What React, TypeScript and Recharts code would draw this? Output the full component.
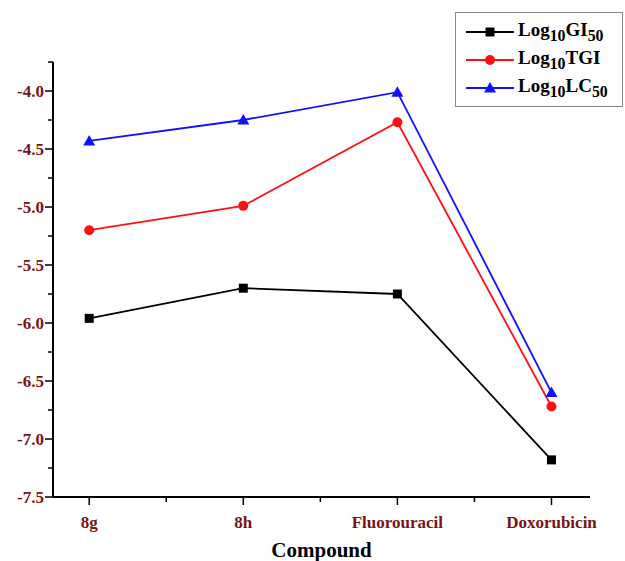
import { LineChart, Line, XAxis, YAxis } from 'recharts';

const compounds = ['8g', '8h', 'Fluorouracil', 'Doxorubicin'];
const gi50 = [-5.96, -5.7, -5.75, -7.18];
const tgi = [-5.2, -4.99, -4.27, -6.72];
const lc50 = [-4.43, -4.25, -4.01, -6.6];
const yTicks = [-7.5, -7.25, -7.0, -6.75, -6.5, -6.25, -6.0, -5.75, -5.5, -5.25, -5.0, -4.75, -4.5, -4.25, -4.0, -3.75];
const xTicks = [0, 0.5, 1, 1.5, 2, 2.5, 3];

const data = compounds.map((name, i) => ({
  idx: i,
  name,
  gi50: gi50[i],
  tgi: tgi[i],
  lc50: lc50[i],
}));

const FONT = '"Liberation Serif", "Times New Roman", serif';
const TICK_COLOR = '#7a1414';

function YTick({ x, y, payload }: any) {
  const v = payload.value as number;
  const major = Math.abs(v * 2 - Math.round(v * 2)) < 1e-6;
  if (v === -3.75) {
    return <line x1={x - 5} x2={x} y1={y} y2={y} stroke="#000" strokeWidth={1.5} />;
  }
  return (
    <g>
      <line x1={x - (major ? 8 : 5)} x2={x} y1={y} y2={y} stroke="#000" strokeWidth={1.5} />
      {major && (
        <text x={x - 9} y={y} dy={6} textAnchor="end" fill={TICK_COLOR} fontFamily={FONT} fontWeight="bold" fontSize={17}>
          {v.toFixed(1)}
        </text>
      )}
    </g>
  );
}

function XTick({ x, y, payload }: any) {
  const v = payload.value as number;
  const major = Number.isInteger(v);
  return (
    <g>
      <line x1={x} x2={x} y1={y} y2={y + (major ? 8 : 5)} stroke="#000" strokeWidth={1.5} />
      {major && (
        <text x={x} y={y + 31} textAnchor="middle" fill={TICK_COLOR} fontFamily={FONT} fontWeight="bold" fontSize={17}>
          {compounds[v]}
        </text>
      )}
    </g>
  );
}

const SquareDot = ({ cx, cy, fill }: any) => (
  <rect x={cx - 4.5} y={cy - 4.5} width={9} height={9} fill={fill} />
);
const CircleDot = ({ cx, cy, fill }: any) => <circle cx={cx} cy={cy} r={5} fill={fill} />;
const TriDot = ({ cx, cy, fill }: any) => (
  <polygon points={`${cx},${cy - 6} ${cx + 6},${cy + 4.5} ${cx - 6},${cy + 4.5}`} fill={fill} />
);

const legendItems = [
  { key: 'gi50', color: '#000000', Dot: SquareDot, label: <>Log<sub>10</sub>GI<sub>50</sub></> },
  { key: 'tgi', color: '#ff1010', Dot: CircleDot, label: <>Log<sub>10</sub>TGI</> },
  { key: 'lc50', color: '#1010ff', Dot: TriDot, label: <>Log<sub>10</sub>LC<sub>50</sub></> },
];

function ChartLegend() {
  return (
    <div
      style={{
        position: 'absolute',
        left: 455,
        top: 12,
        width: 152,
        height: 83,
        border: '1px solid #888',
        background: '#fff',
        padding: '5px 6px 5px 8px',
        fontFamily: FONT,
        fontWeight: 'bold',
        fontSize: 19,
        boxSizing: 'content-box',
      }}
    >
      {legendItems.map(({ key, color, Dot, label }) => (
        <div key={key} style={{ display: 'flex', alignItems: 'center', height: 28, whiteSpace: 'nowrap' }}>
          <svg width={50} height={16} style={{ marginRight: 4, flex: 'none' }}>
            <line x1={2} x2={50} y1={8} y2={8} stroke={color} strokeWidth={2} />
            <Dot cx={26} cy={8} fill={color} />
          </svg>
          <span>{label}</span>
        </div>
      ))}
    </div>
  );
}

export default function App() {
  return (
    <div style={{ position: 'absolute', left: 0, top: 0, width: 625, height: 561, background: '#fff' }}>
      <LineChart width={625} height={561} data={data} margin={{ top: 62, right: 35, bottom: 0, left: 0 }}>
        <XAxis
          dataKey="idx"
          type="number"
          domain={[-0.235, 3.25]}
          ticks={xTicks}
          interval={0}
          tick={<XTick />}
          tickLine={false}
          tickSize={0}
          tickMargin={0}
          height={64}
          stroke="#000"
          strokeWidth={2}
          label={{
            value: 'Compound',
            position: 'insideBottom',
            offset: 4,
            fill: '#000',
            fontFamily: FONT,
            fontWeight: 'bold',
            fontSize: 21,
          }}
        />
        <YAxis
          type="number"
          domain={[-7.5, -3.75]}
          ticks={yTicks}
          interval={0}
          tick={<YTick />}
          tickLine={false}
          tickSize={0}
          tickMargin={0}
          width={53}
          stroke="#000"
          strokeWidth={2}
          allowDataOverflow
        />
        <Line dataKey="gi50" stroke="#000000" strokeWidth={1.8} dot={<SquareDot fill="#000000" />} isAnimationActive={false} />
        <Line dataKey="tgi" stroke="#ff1010" strokeWidth={1.8} dot={<CircleDot fill="#ff1010" />} isAnimationActive={false} />
        <Line dataKey="lc50" stroke="#1010ff" strokeWidth={1.8} dot={<TriDot fill="#1010ff" />} isAnimationActive={false} />
      </LineChart>
      <ChartLegend />
    </div>
  );
}
